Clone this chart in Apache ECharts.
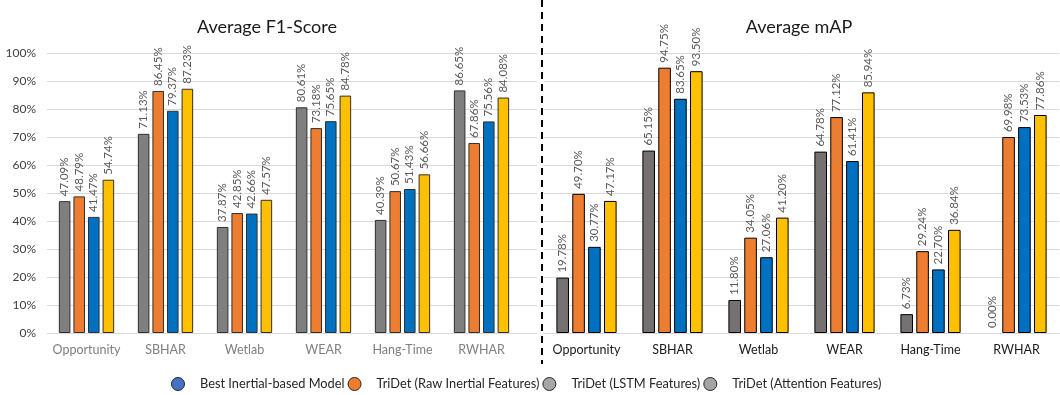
<!DOCTYPE html>
<html>
<head>
<meta charset="utf-8">
<script src="https://cdn.jsdelivr.net/npm/echarts@6/dist/echarts.min.js"></script>
<style>
  html, body { margin: 0; padding: 0; background: #ffffff; }
  #chart { width: 1060px; height: 395px; }
</style>
</head>
<body>
<div id="chart"></div>
<script>
// Datasets on the category axis
const datasets = ['Opportunity', 'SBHAR', 'Wetlab', 'WEAR', 'Hang-Time', 'RWHAR'];

// Model variants (legend order)
const seriesNames = [
  'Best Inertial-based Model',
  'TriDet (Raw Inertial Features)',
  'TriDet (LSTM Features)',
  'TriDet (Attention Features)'
];

// Average F1-Score (%) per dataset, one array per model variant
const f1Best = [47.09, 71.13, 37.87, 80.61, 40.39, 86.65];
const f1Raw = [48.79, 86.45, 42.85, 73.18, 50.67, 67.86];
const f1Lstm = [41.47, 79.37, 42.66, 75.65, 51.43, 75.56];
const f1Attn = [54.74, 87.23, 47.57, 84.78, 56.66, 84.08];

// Average mAP (%) per dataset, one array per model variant
const mapBest = [19.78, 65.15, 11.80, 64.78, 6.73, 0.00];
const mapRaw = [49.70, 94.75, 34.05, 77.12, 29.24, 69.98];
const mapLstm = [30.77, 83.65, 27.06, 61.41, 22.70, 73.53];
const mapAttn = [47.17, 93.50, 41.20, 85.94, 36.84, 77.86];

// Y axis ticks (percent)
const yTicks = [0, 10, 20, 30, 40, 50, 60, 70, 80, 90, 100];

const FONT = 'Lato, "Open Sans", sans-serif';
const leftColors = ['#7f7f7f', '#ed7d31', '#0070c0', '#ffc000'];
const rightColors = ['#767171', '#ed7d31', '#0070c0', '#ffc000'];
const legendColors = ['#4472c4', '#ed7d31', '#a5a5a5', '#a5a5a5'];

const chart = echarts.init(document.getElementById('chart'), null, { renderer: 'canvas' });

function barSeries(name, values, color, gridIdx, borderColor) {
  // an empty (zero) bar gets no outline, so only its label remains
  const data = values.map(v => v === 0
    ? { value: v, itemStyle: { borderWidth: 0 } }
    : v);
  return {
    name: name,
    type: 'bar',
    xAxisIndex: gridIdx,
    yAxisIndex: gridIdx,
    data: data,
    barGap: '26%',
    barCategoryGap: '30%',
    itemStyle: { color: color, borderColor: borderColor, borderWidth: 1 },
    label: {
      show: true,
      position: 'top',
      rotate: 90,
      align: 'left',
      verticalAlign: 'middle',
      distance: 5,
      color: '#595959',
      fontFamily: FONT,
      fontSize: 11.5,
      formatter: p => p.value.toFixed(2) + '%'
    }
  };
}

const f1Sets = [f1Best, f1Raw, f1Lstm, f1Attn];
const mapSets = [mapBest, mapRaw, mapLstm, mapAttn];

const series = [];
seriesNames.forEach((n, i) => series.push(barSeries(n, f1Sets[i], leftColors[i], 0, '#303030')));
seriesNames.forEach((n, i) => series.push(barSeries(n, mapSets[i], rightColors[i], 2, '#000000')));

const yMin = yTicks[0];
const yMax = yTicks[yTicks.length - 1];
const yStep = yTicks[1] - yTicks[0];

const option = {
  backgroundColor: '#ffffff',
  animation: false,
  textStyle: { fontFamily: FONT },
  title: [
    { text: 'Average F1-Score', left: 262, top: 13, textAlign: 'center',
      textStyle: { fontFamily: FONT, fontSize: 18, fontWeight: 'normal', color: '#1a1a1a' } },
    { text: 'Average mAP', left: 794, top: 13, textAlign: 'center',
      textStyle: { fontFamily: FONT, fontSize: 18, fontWeight: 'normal', color: '#1a1a1a' } }
  ],
  legend: {
    left: 166,
    top: 372,
    icon: 'circle',
    itemWidth: 34,
    itemHeight: 13,
    itemGap: 3,
    selectedMode: false,
    textStyle: { fontFamily: FONT, fontSize: 12.8, color: '#262626' },
    data: seriesNames.map((n, i) => ({
      name: n,
      itemStyle: { color: legendColors[i], borderColor: '#262626', borderWidth: 1 }
    }))
  },
  grid: [
    { left: 47, top: 53, width: 474, height: 280 },
    { left: 47, top: 53, width: 490, height: 280 },
    { left: 543.5, top: 53, width: 516, height: 280 }
  ],
  xAxis: [
    { type: 'category', gridIndex: 0, data: datasets,
      axisLine: { show: false }, axisTick: { show: false },
      axisLabel: { interval: 0, color: '#7f7f7f', fontFamily: FONT, fontSize: 12.5, margin: 10 } },
    { type: 'category', gridIndex: 1, data: [], show: false },
    { type: 'category', gridIndex: 2, data: datasets,
      axisLine: { show: true, lineStyle: { color: '#d9d9d9' } }, axisTick: { show: false },
      axisLabel: { interval: 0, color: '#1a1a1a', fontFamily: FONT, fontSize: 12.5, margin: 10 } }
  ],
  yAxis: [
    { type: 'value', gridIndex: 0, min: yMin, max: yMax, interval: yStep,
      axisLabel: { show: false }, splitLine: { show: false },
      axisLine: { show: false }, axisTick: { show: false } },
    { type: 'value', gridIndex: 1, min: yMin, max: yMax, interval: yStep,
      axisLine: { show: false }, axisTick: { show: false },
      splitLine: { lineStyle: { color: '#d9d9d9', width: 1 } },
      axisLabel: { formatter: '{value}%', color: '#404040', fontFamily: FONT, fontSize: 12, margin: 11 } },
    { type: 'value', gridIndex: 2, min: yMin, max: yMax, interval: yStep,
      axisLine: { show: false }, axisTick: { show: false },
      splitLine: { lineStyle: { color: '#d9d9d9', width: 1 } },
      axisLabel: { show: false } }
  ],
  graphic: [
    {
      type: 'line',
      silent: true,
      shape: { x1: 542, y1: 0, x2: 542, y2: 364 },
      style: { stroke: '#000000', lineWidth: 2, lineDash: [7, 5] }
    }
  ],
  series: series
};

chart.setOption(option);
</script>
</body>
</html>
